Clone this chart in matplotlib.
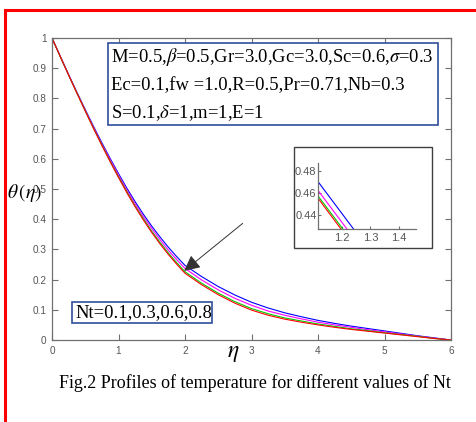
import numpy as np
import matplotlib
matplotlib.use("Agg")
import matplotlib.pyplot as plt
from matplotlib.patches import Rectangle

plt.rcParams['mathtext.fontset'] = 'stix'

# data
eta = [0, 0.125, 0.25, 0.375, 0.5, 0.625, 0.75, 0.875, 1.0, 1.125, 1.25, 1.375, 1.5,
       1.625, 1.75, 1.875, 2.0, 2.25, 2.5, 2.75, 3.0, 3.25, 3.5, 3.75, 4.0, 4.25,
       4.5, 4.75, 5.0, 5.25, 5.5, 5.75, 6.0]
theta_nt01 = [1.000, 0.939, 0.879, 0.820, 0.763, 0.707, 0.653, 0.601, 0.551, 0.503, 0.458,
              0.416, 0.377, 0.341, 0.307, 0.276, 0.247, 0.210, 0.177, 0.149, 0.125, 0.106,
              0.090, 0.077, 0.065, 0.055, 0.046, 0.038, 0.030, 0.022, 0.014, 0.007, 0.000]
theta_nt03 = [1.000, 0.939, 0.878, 0.819, 0.761, 0.704, 0.649, 0.597, 0.546, 0.497, 0.451,
              0.408, 0.369, 0.332, 0.297, 0.266, 0.237, 0.199, 0.166, 0.138, 0.115, 0.096,
              0.082, 0.070, 0.059, 0.050, 0.042, 0.034, 0.027, 0.020, 0.013, 0.006, 0.000]
theta_nt06 = [1.000, 0.938, 0.877, 0.818, 0.759, 0.701, 0.646, 0.592, 0.541, 0.491, 0.444,
              0.401, 0.360, 0.323, 0.288, 0.256, 0.226, 0.188, 0.155, 0.127, 0.104, 0.087,
              0.073, 0.063, 0.053, 0.045, 0.037, 0.031, 0.024, 0.018, 0.012, 0.005, 0.000]
theta_nt08 = [1.000, 0.938, 0.877, 0.817, 0.758, 0.700, 0.644, 0.590, 0.538, 0.488, 0.441,
              0.397, 0.356, 0.318, 0.283, 0.251, 0.221, 0.183, 0.150, 0.122, 0.099, 0.082,
              0.069, 0.059, 0.050, 0.042, 0.035, 0.029, 0.023, 0.017, 0.011, 0.005, 0.000]

# zoomed segment shown in the inset
inset_eta = [1.10, 1.30]
inset_nt01 = [0.476, 0.4065]
inset_nt03 = [0.468, 0.3985]
inset_nt06 = [0.463, 0.3935]
inset_nt08 = [0.461, 0.391]

W, H = 476, 422
fig = plt.figure(figsize=(W / 100, H / 100), dpi=100)

def fx(px):
    return px / W

def fy(py):
    return 1 - py / H

# red frame around the figure
fig.patches.append(Rectangle((fx(5), -0.1), 1.2, fy(10) + 0.1, transform=fig.transFigure,
                             fill=False, edgecolor='red', linewidth=2.2, zorder=0))

grey = '#707070'
tickcol = '#555555'

ax = fig.add_axes([fx(52), fy(340), fx(451) - fx(52), fy(38) - fy(340)])
for y, c in [(theta_nt01, 'blue'), (theta_nt03, 'magenta'),
             (theta_nt06, '#00cc00'), (theta_nt08, 'red')]:
    ax.plot(eta, y, color=c, lw=0.8, solid_joinstyle='round')
ax.set_xlim(0, 6)
ax.set_ylim(0, 1)
ax.set_xticks(range(7))
ax.set_yticks(np.arange(0, 1.01, 0.1))
ax.set_yticklabels(['0', '0.1', '0.2', '0.3', '0.4', '0.5', '0.6', '0.7', '0.8', '0.9', '1'])
ax.tick_params(direction='in', top=True, right=True, length=4, width=0.8, color=grey, pad=4)
for lab in ax.get_xticklabels() + ax.get_yticklabels():
    lab.set_fontfamily('Liberation Sans')
    lab.set_fontsize(7.2)
    lab.set_color(tickcol)
for s in ax.spines.values():
    s.set_color(grey)
    s.set_linewidth(0.9)

ax.annotate('', xy=(1.955, 0.223), xytext=(2.90, 0.392),
            arrowprops=dict(arrowstyle='-|>,head_length=0.6,head_width=0.3', color='#333333',
                            lw=0.7, mutation_scale=16, facecolor='black'))

# axis labels placed like the original
fig.text(fx(24), fy(193), r'$\theta\,(\eta)$', fontsize=14, ha='center', va='center')
fig.text(fx(233), fy(352), r'$\eta$', fontsize=17, ha='center', va='center')

# parameter box
fig.patches.append(Rectangle((fx(108), fy(125)), fx(438) - fx(108), fy(43) - fy(125),
                             transform=fig.transFigure, facecolor='white',
                             edgecolor='#2f4f9a', linewidth=1.2, zorder=5))
lines = [r'M=0.5,$\beta$=0.5,Gr=3.0,Gc=3.0,Sc=0.6,$\sigma$=0.3',
         r'Ec=0.1,fw =1.0,R=0.5,Pr=0.71,Nb=0.3',
         r'S=0.1,$\delta$=1,m=1,E=1']
for py, t in zip([57, 86, 113], lines):
    fig.text(fx(111), fy(py), t, family='Liberation Serif', fontsize=13.4,
             ha='left', va='center', zorder=6)

# Nt box
fig.patches.append(Rectangle((fx(72), fy(323)), fx(212) - fx(72), fy(302) - fy(323),
                             transform=fig.transFigure, facecolor='white',
                             edgecolor='#2f4f9a', linewidth=1.2, zorder=5))
fig.text(fx(75), fy(312.5), 'Nt=0.1,0.3,0.6,0.8', family='Liberation Serif',
         fontsize=13.4, ha='left', va='center', zorder=6)

# inset
fig.patches.append(Rectangle((fx(294), fy(248)), fx(432) - fx(294), fy(147) - fy(248),
                             transform=fig.transFigure, facecolor='white',
                             edgecolor='#404040', linewidth=1.0, zorder=5))
ins = fig.add_axes([fx(318), fy(229), fx(416) - fx(318), fy(163) - fy(229)], zorder=6)
ins.patch.set_alpha(0)
ins.plot(inset_eta, inset_nt01, color='blue', lw=0.8)
ins.plot(inset_eta, inset_nt03, color='magenta', lw=0.8)
ins.plot(inset_eta, inset_nt06, color='#00cc00', lw=0.8)
ins.plot(inset_eta, inset_nt08, color='red', lw=0.8)
ins.set_xlim(1.117, 1.459)
ins.set_ylim(0.427, 0.487)
ins.set_xticks([1.2, 1.3, 1.4])
ins.set_yticks([0.44, 0.46, 0.48])
ins.set_xticklabels(['1.2', '1.3', '1.4'])
ins.set_yticklabels(['0.44', '0.46', '0.48'])
ins.spines['top'].set_visible(False)
ins.spines['right'].set_visible(False)
for s in ('left', 'bottom'):
    ins.spines[s].set_color(grey)
    ins.spines[s].set_linewidth(0.9)
ins.tick_params(direction='in', length=2, width=0.8, color=grey, pad=3)
ins.tick_params(axis='y', pad=1)
for lab in ins.get_xticklabels() + ins.get_yticklabels():
    lab.set_fontfamily('Liberation Sans')
    lab.set_fontsize(8)
    lab.set_color(tickcol)

# caption
fig.text(fx(254.5), fy(383), 'Fig.2 Profiles of temperature for different values of Nt',
         family='Liberation Serif', fontsize=13, ha='center', va='center')

fig.savefig('out.png', dpi=100)
